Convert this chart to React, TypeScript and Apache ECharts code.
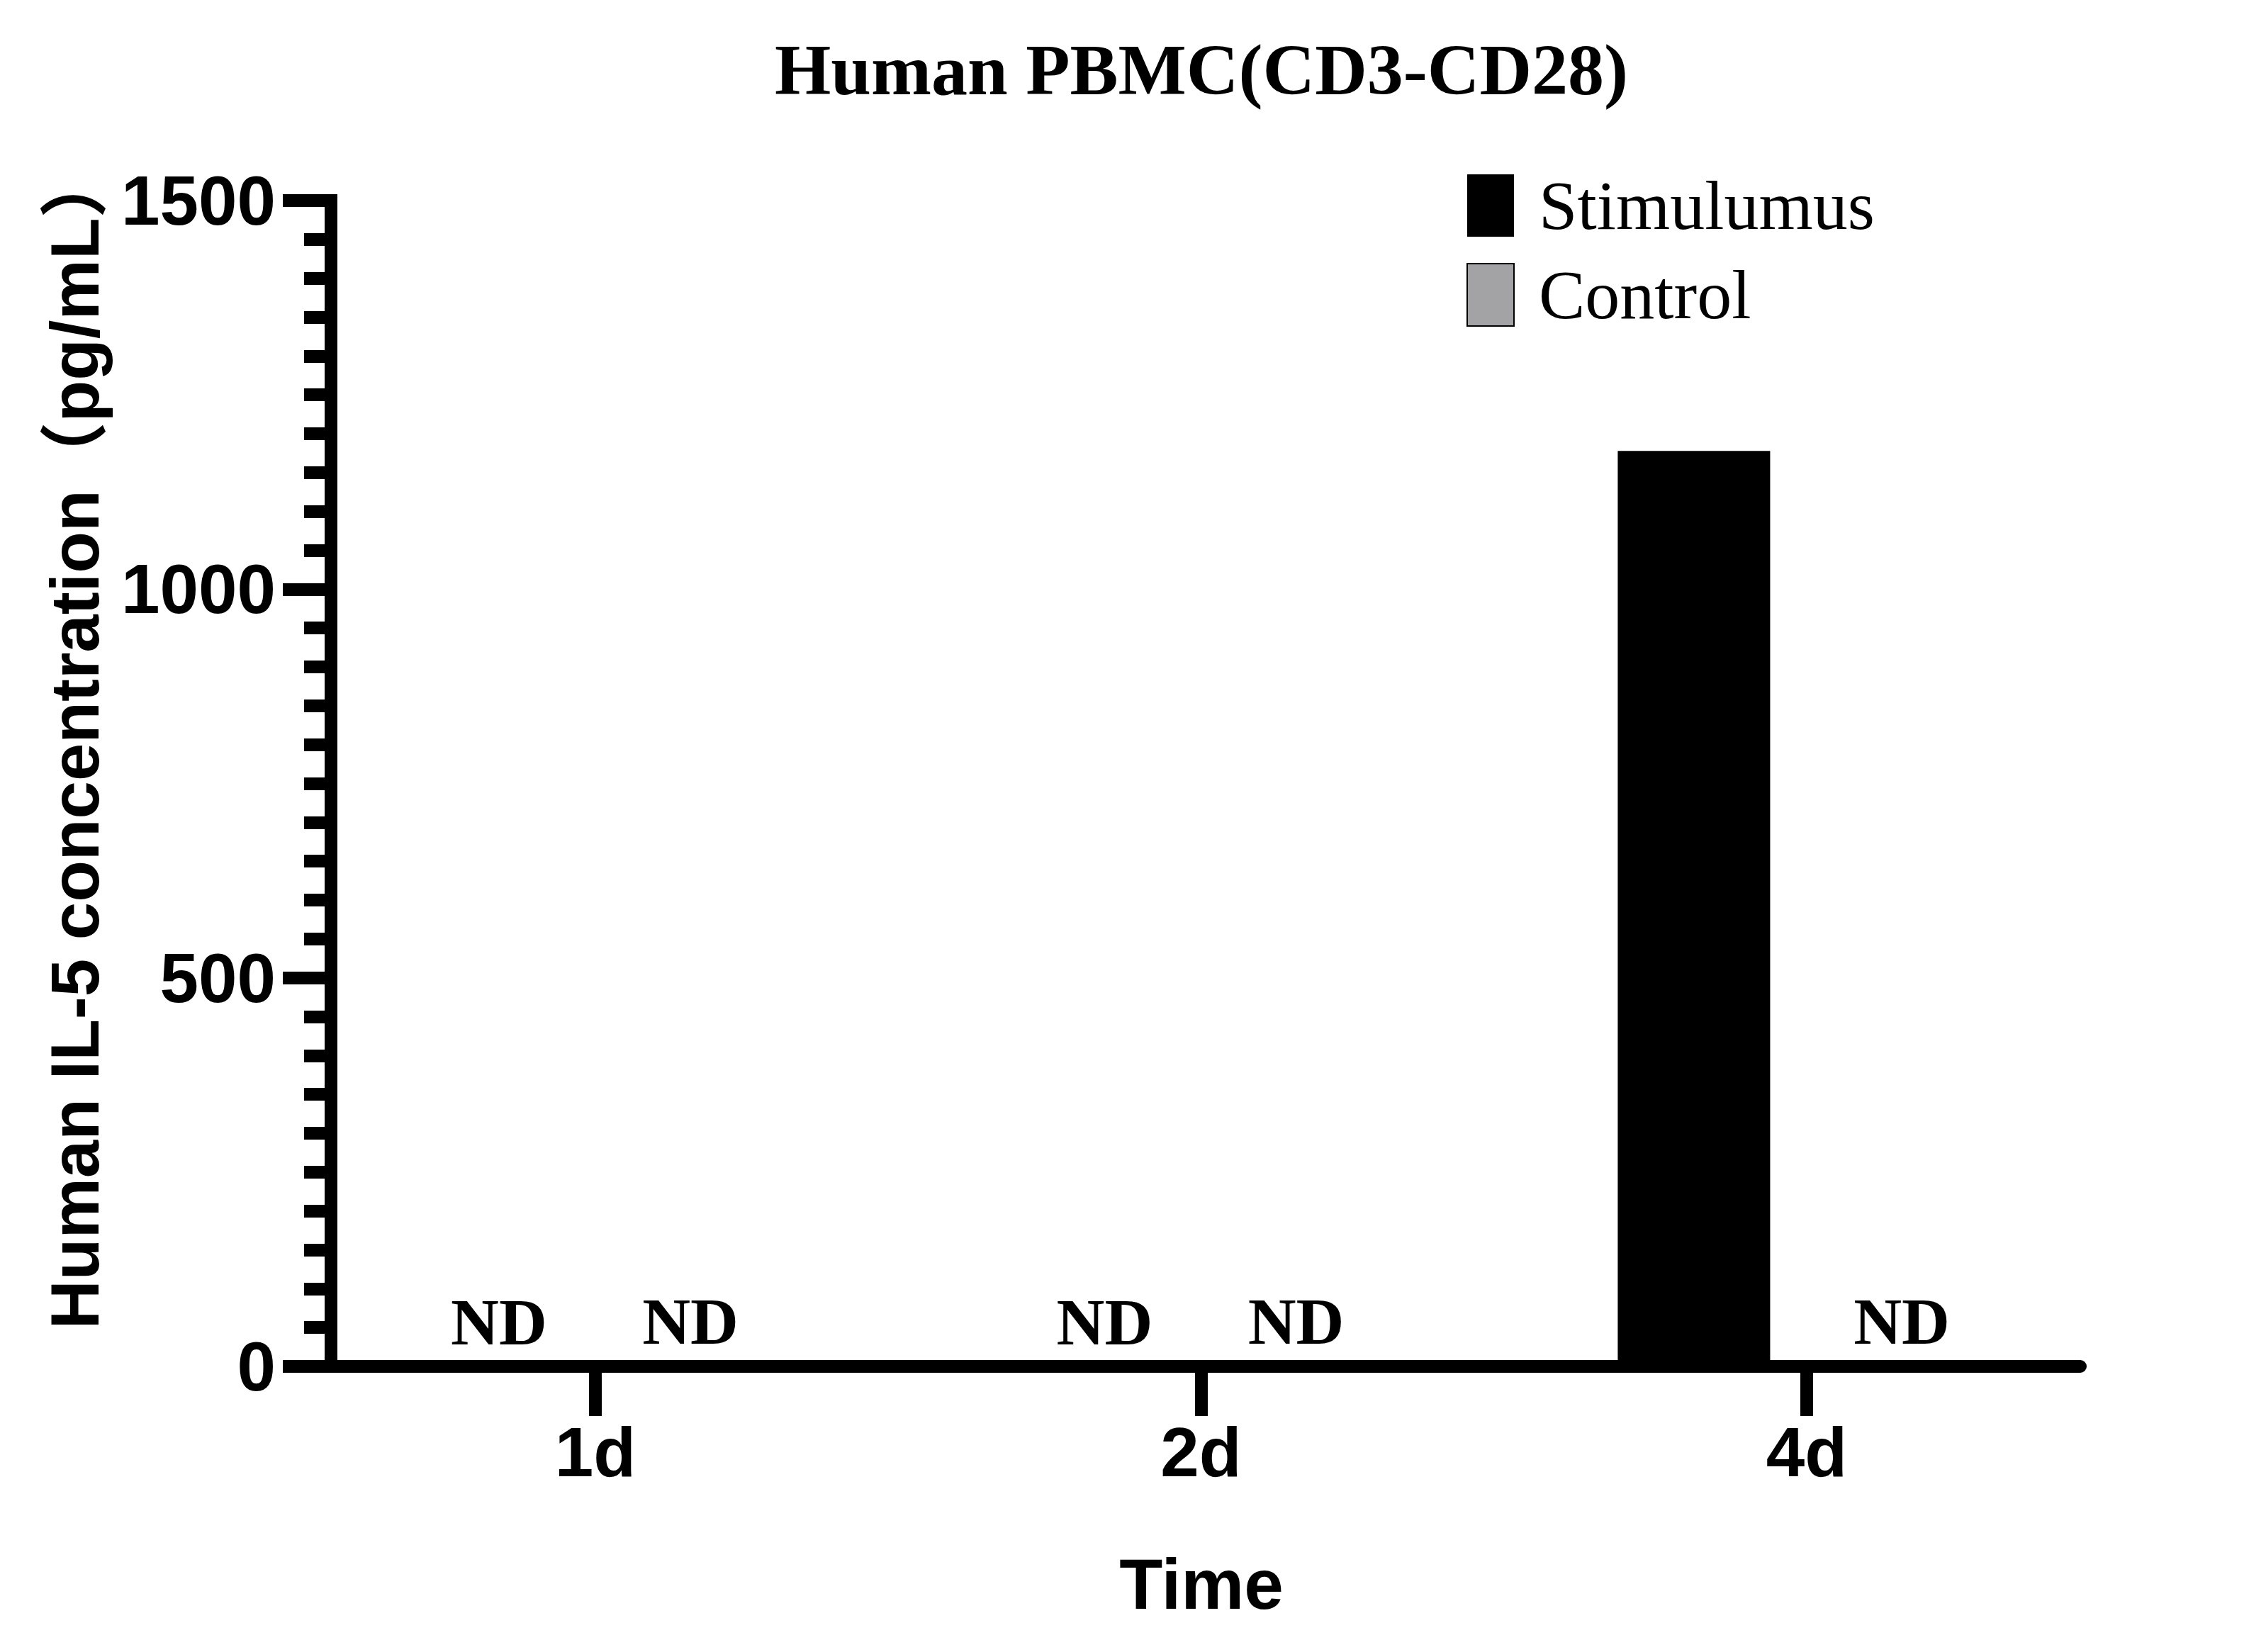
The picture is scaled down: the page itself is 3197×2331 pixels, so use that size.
import { useEffect, useRef } from "react";
import * as echarts from "echarts";

const categories = ["1d", "2d", "4d"];
const stimulusValues = [0, 0, 1178];
const controlValues = [0, 0, 0];
const yTicks = [0, 500, 1000, 1500];

const SANS = "'Liberation Sans', Arial, 'Noto Sans CJK SC', sans-serif";
const SERIF = "'Liberation Serif', 'Times New Roman', serif";

// x is a value axis so the axis line can stop short of the last band, like the original
const catIndex = categories.map((_, i) => i);

function ndLabel(p: { value: number[] }): string {
  return p.value[1] === 0 ? "ND" : "";
}

export default function App(): JSX.Element {
  const ref = useRef<HTMLDivElement | null>(null);

  useEffect(() => {
    const el = ref.current;
    if (!el) return;
    const chart = echarts.init(el, undefined, { renderer: "svg" });
    chart.setOption({
      animation: false,
      backgroundColor: "#ffffff",
      title: {
        text: "Human PBMC(CD3-CD28)",
        left: 1695,
        top: 47,
        padding: 0,
        textAlign: "center",
        textStyle: { fontFamily: SERIF, fontWeight: "bold", fontSize: 102, color: "#000" },
      },
      legend: {
        orient: "vertical",
        left: 2069,
        top: 241,
        icon: "rect",
        itemWidth: 66,
        itemHeight: 88,
        itemGap: 28,
        padding: 0,
        textStyle: { fontFamily: SERIF, fontSize: 98, lineHeight: 98, color: "#000", padding: [0, 0, 0, 30] },
        data: ["Stimulumus", "Control"],
      },
      grid: { left: 467, right: 262, top: 283, bottom: 403, containLabel: false },
      xAxis: {
        type: "value",
        min: -0.4365,
        max: 2.4517,
        name: "Time",
        nameLocation: "middle",
        nameGap: 257,
        nameTextStyle: { fontFamily: SANS, fontWeight: "bold", fontSize: 100, color: "#000", padding: [0, 12, 0, 0] },
        axisLine: { show: true, onZero: false, lineStyle: { color: "#000", width: 18 } },
        axisTick: { show: true, customValues: catIndex, length: 70, lineStyle: { color: "#000", width: 18 } },
        axisLabel: {
          customValues: catIndex,
          fontFamily: SANS,
          fontWeight: "bold",
          fontSize: 98,
          color: "#000",
          margin: 72,
          formatter: (v: number) => categories[Math.round(v)] ?? "",
        },
        splitLine: { show: false },
      },
      yAxis: {
        type: "value",
        min: yTicks[0],
        max: yTicks[yTicks.length - 1],
        interval: yTicks[1] - yTicks[0],
        name: "Human IL-5 concentration（pg/mL）",
        nameLocation: "middle",
        nameGap: 314,
        nameTextStyle: {
          fontFamily: SANS,
          fontWeight: "bold",
          fontSize: 96,
          color: "#000",
          padding: [0, 0, 0, 124],
        },
        axisLine: { show: true, onZero: false, lineStyle: { color: "#000", width: 18, cap: "square" } },
        axisTick: { show: true, length: 68, lineStyle: { color: "#000", width: 18 } },
        minorTick: { show: true, splitNumber: 10, length: 38, lineStyle: { color: "#000", width: 18 } },
        axisLabel: {
          fontFamily: SANS,
          fontWeight: "bold",
          fontSize: 98,
          color: "#000",
          margin: 78,
          formatter: (v: number) => String(v),
        },
        splitLine: { show: false },
      },
      series: [
        {
          name: "Stimulumus",
          type: "bar",
          data: stimulusValues.map((v, i) => [catIndex[i], v]),
          barWidth: 215,
          barGap: "48%",
          itemStyle: { color: "#000000" },
          label: {
            show: true,
            position: "top",
            distance: 16,
            offset: [23, 0],
            formatter: ndLabel,
            fontFamily: SERIF,
            fontWeight: "bold",
            fontSize: 94,
            color: "#000",
          },
        },
        {
          name: "Control",
          type: "bar",
          data: controlValues.map((v, i) => [catIndex[i], v]),
          barWidth: 215,
          itemStyle: { color: "#a3a3a6", borderColor: "#000", borderWidth: 3 },
          label: {
            show: true,
            position: "top",
            distance: 16,
            offset: [-25, 0],
            formatter: ndLabel,
            fontFamily: SERIF,
            fontWeight: "bold",
            fontSize: 94,
            color: "#000",
          },
        },
      ],
    });
    return () => {
      chart.dispose();
    };
  }, []);

  return (
    <div
      ref={ref}
      style={{ position: "absolute", left: 0, top: 0, width: 3197, height: 2331, background: "#fff" }}
    />
  );
}
